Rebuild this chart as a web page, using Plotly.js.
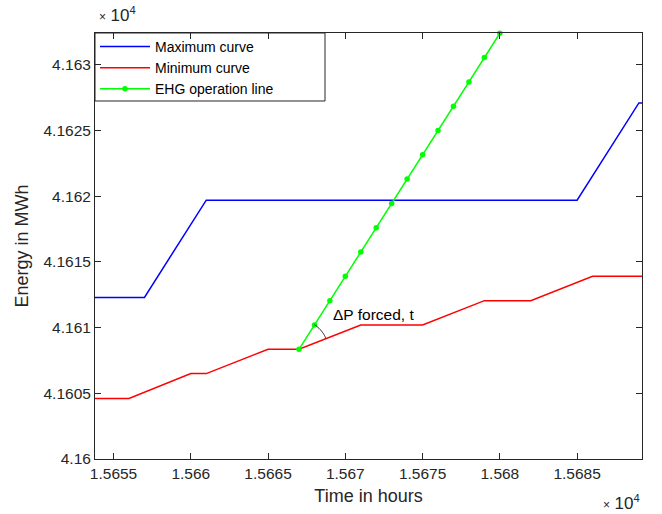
<!DOCTYPE html>
<html>
<head>
<meta charset="utf-8">
<script src="https://cdn.plot.ly/plotly-3.0.1.min.js"></script>
<style>html,body{margin:0;padding:0;background:#fff;}#chart{width:662px;height:514px;}</style>
</head>
<body>
<div id="chart"></div>
<script>
// Data (Time in hours, Energy in MWh)
var maxX = [15653, 15657, 15661, 15685, 15689, 15690];
var maxY = [41612.3, 41612.3, 41619.7, 41619.7, 41627.1, 41627.1];

var minX = [15653, 15656, 15660, 15661, 15665, 15667, 15671, 15675, 15679, 15682, 15686, 15690];
var minY = [41604.6, 41604.6, 41606.5, 41606.5, 41608.35, 41608.35, 41610.2, 41610.2, 41612.05, 41612.05, 41613.9, 41613.9];

var ehgX = [15667, 15668, 15669, 15670, 15671, 15672, 15673, 15674, 15675, 15676, 15677, 15678, 15679, 15680];
var ehgY = [41608.35, 41610.2, 41612.05, 41613.9, 41615.75, 41617.6, 41619.45, 41621.3, 41623.15, 41625.0, 41626.85, 41628.7, 41630.55, 41632.4];

var xTickVals = [15655, 15660, 15665, 15670, 15675, 15680, 15685];
var xTickText = ['1.5655', '1.566', '1.5665', '1.567', '1.5675', '1.568', '1.5685'];
var yTickVals = [41600, 41605, 41610, 41615, 41620, 41625, 41630];
var yTickText = ['4.16', '4.1605', '4.161', '4.1615', '4.162', '4.1625', '4.163'];

var seriesNames = ['Maximum curve', 'Minimum curve', 'EHG operation line'];
var annotationText = '\u0394P forced, t';
var exponentText = '<span style="font-size:12px">\u00d7</span> <span style="font-size:17px">10</span><sup>4</sup>';

// Layout geometry
var W = 662, H = 514;
var M = {l: 95, r: 20, t: 33, b: 55};
var xRange = [15653.8, 15689.2];
var yRange = [41600, 41632.42];
var plotW = W - M.l - M.r, plotH = H - M.t - M.b;
var pxPerX = plotW / (xRange[1] - xRange[0]);
var pxPerY = plotH / (yRange[1] - yRange[0]);

var FONT = 'Liberation Sans, Arial, Helvetica, sans-serif';
var INK = '#262626';

// Angle arc between EHG line and minimum curve at the start of the EHG line
var vx = ehgX[0], vy = ehgY[0];
var gAng = Math.atan2((ehgY[1] - ehgY[0]) * pxPerY, (ehgX[1] - ehgX[0]) * pxPerX);
var ri = minX.indexOf(vx);
var rAng = Math.atan2((minY[ri + 1] - minY[ri]) * pxPerY, (minX[ri + 1] - minX[ri]) * pxPerX);
var R = 29, steps = 16, arcPath = '';
for (var i = 0; i <= steps; i++) {
  var a = gAng + (rAng - gAng) * i / steps;
  arcPath += (i === 0 ? 'M' : 'L') + (R * Math.cos(a)).toFixed(2) + ',' + (R * Math.sin(a)).toFixed(2);
}

var traces = [
  {x: maxX, y: maxY, name: seriesNames[0], mode: 'lines', type: 'scatter',
   line: {color: '#0000FF', width: 1.5}},
  {x: minX, y: minY, name: seriesNames[1], mode: 'lines', type: 'scatter',
   line: {color: '#FF0000', width: 1.5}},
  {x: ehgX, y: ehgY, name: seriesNames[2], mode: 'lines+markers', type: 'scatter',
   line: {color: '#00FF00', width: 1.5}, marker: {color: '#00FF00', size: 5.5}, cliponaxis: false}
];

var axisCommon = {
  showgrid: false, zeroline: false, showline: true, linecolor: INK, linewidth: 1,
  mirror: 'ticks', ticks: 'inside', ticklen: 6, tickcolor: INK, tickwidth: 1,
  tickfont: {family: FONT, size: 15.5, color: INK}, tickmode: 'array'
};

var layout = {
  width: W, height: H,
  margin: M,
  paper_bgcolor: '#fff', plot_bgcolor: '#fff',
  font: {family: FONT, color: INK},
  showlegend: true,
  legend: {x: 0, y: 1.005, xanchor: 'left', yanchor: 'top', bgcolor: 'rgba(0,0,0,0)',
           borderwidth: 0, font: {family: FONT, size: 14, color: '#000'}, itemwidth: 50,
           tracegroupgap: 0},
  xaxis: Object.assign({}, axisCommon, {
    range: xRange, tickvals: xTickVals, ticktext: xTickText,
    title: {text: 'Time in hours', font: {family: FONT, size: 18, color: INK}, standoff: 8}
  }),
  yaxis: Object.assign({}, axisCommon, {
    range: yRange, tickvals: yTickVals, ticktext: yTickText,
    title: {text: 'Energy in MWh', font: {family: FONT, size: 18, color: INK}, standoff: 10}
  }),
  shapes: [
    {type: 'rect', xref: 'paper', yref: 'paper', x0: 0, x1: 0.4205, y0: 0.8404, y1: 1,
     line: {color: INK, width: 1}, fillcolor: 'rgba(0,0,0,0)'},
    {type: 'path', xref: 'x', yref: 'y', xsizemode: 'pixel', ysizemode: 'pixel',
     xanchor: vx, yanchor: vy, path: arcPath, line: {color: INK, width: 1}}
  ],
  annotations: [
    {xref: 'x', yref: 'y', x: 15669.1, y: 41611.0, xanchor: 'left', yanchor: 'middle',
     text: annotationText, showarrow: false, font: {family: FONT, size: 15.5, color: '#000'}},
    {xref: 'paper', yref: 'paper', x: 0.003, y: 1, xanchor: 'left', yanchor: 'top', yshift: 31,
     text: exponentText, showarrow: false, font: {family: FONT, size: 16, color: INK}},
    {xref: 'paper', yref: 'paper', x: 1, y: 0, xanchor: 'right', yanchor: 'bottom', yshift: -56,
     text: exponentText, showarrow: false, font: {family: FONT, size: 16, color: INK}}
  ]
};

Plotly.newPlot('chart', traces, layout, {displayModeBar: false, staticPlot: true});
</script>
</body>
</html>
